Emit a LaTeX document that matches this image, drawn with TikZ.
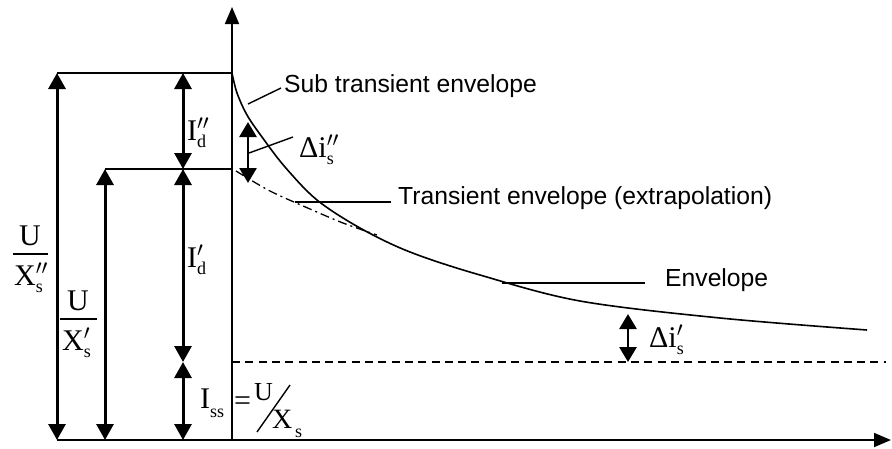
\RequirePackage{fix-cm}
\documentclass[tikz,border=0pt]{standalone}
\usepackage{fontspec}
\setmainfont{Liberation Sans}
\newfontfamily\tnr{Liberation Serif}
\usetikzlibrary{arrows.meta}
\newcommand{\subsz}{\fontsize{18}{20}\selectfont}
\newcommand{\pp}{$^{\prime\prime}$}
\newcommand{\pr}{$^{\prime}$}
\newcommand{\supsub}[3]{#1\rlap{\raisebox{-0.02em}{#2}}\raisebox{-0.25em}{\subsz #3}}
\begin{document}
\begin{tikzpicture}[x=1pt,y=-1pt,
  ln/.style={line width=1.6pt},
  thin/.style={line width=1.4pt},
  axisarrow/.style={line width=1.8pt,-{Triangle[length=17pt,width=14pt]}},
  dimarrow/.style={line width=3pt,{Triangle[length=16pt,width=17pt]}-{Triangle[length=16pt,width=17pt]}},
  smallarrow/.style={line width=2.8pt,{Triangle[length=15pt,width=17pt]}-{Triangle[length=15pt,width=17pt]}},
  txt/.style={font=\fontsize{24.7}{28}\selectfont,inner sep=0pt,anchor=base west},
  mlbl/.style={font=\tnr\fontsize{30}{36}\selectfont,inner sep=0pt},
  dashdot/.style={line width=1.3pt,dash pattern=on 9pt off 4pt on 2pt off 4pt},
  dashline/.style={line width=1.5pt,dash pattern=on 8pt off 5.3pt}
]
\useasboundingbox (0,0) rectangle (892,448);
% key coordinates
\coordinate (O) at (232,440);
\coordinate (Ytop) at (232,7);
\coordinate (X0) at (57,440);
\coordinate (Xend) at (891,440);
\coordinate (A1) at (232,73);
\coordinate (L1) at (57,73);
\coordinate (A2) at (232,169);
\coordinate (L2) at (105,169);
\coordinate (B2) at (105,440);
\coordinate (M1) at (183,73);
\coordinate (M2) at (183,169);
\coordinate (M3) at (183,362);
\coordinate (M4) at (183,440);
\coordinate (D0) at (232,362);
\coordinate (D1) at (886,362);
% axes
\draw[axisarrow] (O) -- (Ytop);
\draw[axisarrow] (X0) -- (Xend);
% horizontal reference lines
\draw[ln] (L1) -- (A1);
\draw[ln] (L2) -- (A2);
\draw[dashline] (D0) -- (D1);
% dimension arrows
\draw[dimarrow] (L1) -- (X0);
\draw[dimarrow] (L2) -- (B2);
\draw[dimarrow] (M1) -- (M2);
\draw[dimarrow] (M2) -- (M3);
\draw[dimarrow] (M3) -- (M4);
% envelope curve
\draw[ln] plot[smooth,tension=0.55] coordinates {(232,73) (237,93) (247,115) (262,137) (285,167) (317,200) (360,228) (410,252) (480,275) (580,301) (720,318) (867,330)};
% transient extrapolation
\draw[dashdot] plot[smooth] coordinates {(236,171) (270,191) (310,209) (343,223) (377,235)};
% delta arrows
\coordinate (P1) at (248,122);
\coordinate (P2) at (248,183);
\draw[smallarrow] (P1) -- (P2);
\coordinate (Q1) at (628,314);
\coordinate (Q2) at (628,362);
\draw[smallarrow] (Q1) -- (Q2);
% texts
\node[txt] (sub) at (284,92) {Sub transient envelope};
\node[txt] (tra) at (398,204) {Transient envelope (extrapolation)};
\node[txt] (env) at (665,286) {Envelope};
% leaders
\coordinate (s1) at (281,88);
\coordinate (s2) at (248,104);
\draw[thin] (s1) -- (s2);
\coordinate (t1) at (295,202);
\coordinate (t2) at (391,202);
\draw[thin] (t1) -- (t2);
\coordinate (e1) at (502,283);
\coordinate (e2) at (645,283);
\draw[thin] (e1) -- (e2);
\coordinate (d1) at (293,137);
\coordinate (d2) at (249,153);
\draw[thin] (d1) -- (d2);
% math labels
\node[mlbl,anchor=base west] (Idpp) at (187,140) {\supsub{I}{\pp}{d}};
\node[mlbl,anchor=base west] (Idp) at (187,267) {\supsub{I}{\pr}{d}};
\node[mlbl,anchor=base west] (Iss) at (200,408) {I\raisebox{-0.3em}{\subsz ss}};
\node[mlbl,anchor=base west] (eq) at (234,410) {=};
\node[mlbl,anchor=base west,font=\tnr\fontsize{26}{30}\selectfont] (U3) at (254,400) {U};
\coordinate (sl1) at (257,432);
\coordinate (sl2) at (290,385);
\draw[line width=1.4pt] (sl1) -- (sl2);
\node[mlbl,anchor=base west,font=\tnr\fontsize{28}{32}\selectfont] (X3) at (272,428) {X};
\node[mlbl,anchor=base west,font=\tnr\subsz] (s3) at (295,437) {s};
% fraction U / X''s
\node[mlbl,anchor=base] (F1n) at (30,245) {U};
\coordinate (F1a) at (13,254);
\coordinate (F1b) at (48,254);
\draw[line width=1.5pt] (F1a) -- (F1b);
\node[mlbl,anchor=base west] (F1d) at (14,285) {\supsub{X}{\pp}{s}};
% fraction U / X's
\node[mlbl,anchor=base] (F2n) at (78,310) {U};
\coordinate (F2a) at (60,319);
\coordinate (F2b) at (97,319);
\draw[line width=1.5pt] (F2a) -- (F2b);
\node[mlbl,anchor=base west] (F2d) at (62,350) {\supsub{X}{\pr}{s}};
% delta labels
\node[mlbl,anchor=base west] (dpp) at (299,157) {\supsub{Δi}{\pp}{s}};
\node[mlbl,anchor=base west] (dp) at (649,347) {\supsub{Δi}{\pr}{s}};
\end{tikzpicture}
\end{document}
